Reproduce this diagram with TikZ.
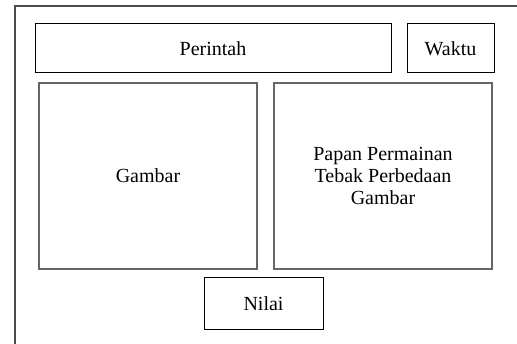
\documentclass[tikz,border=0pt]{standalone}
\usepackage{fontspec}
\setmainfont{Liberation Serif}
\usepackage{tikz}
\usetikzlibrary{positioning}
\tikzset{>=latex}
\tikzstyle{panel} = [rectangle, draw = black, line width = 1pt, inner sep = 0pt, align = center, font = \fontsize{20}{22}\selectfont]
\tikzstyle{panelgray} = [panel, draw = black!60, line width = 1.2pt]

\begin{document}
\begin{tikzpicture}[x = 1pt, y = -1pt]
\useasboundingbox (0, 0) rectangle (517, 344);
\draw [draw = black!70, line width = 1.2pt] (15, 344) -- (15, 6) -- (517, 6);
\node [panel, minimum width = 356pt, minimum height = 49pt] (perintah) at (213, 48.5) {Perintah};
\node [panel, minimum width = 87pt, minimum height = 49pt] (waktu) at (450.5, 48.5) {Waktu};
\node [panelgray, minimum width = 218pt, minimum height = 186pt] (gambar) at (148, 176) {Gambar};
\node [panelgray, minimum width = 218pt, minimum height = 186pt] (papan) at (383, 176) {Papan Permainan\\Tebak Perbedaan\\Gambar};
\node [panel, minimum width = 119pt, minimum height = 52pt] (nilai) at (263.5, 304) {Nilai};
\end{tikzpicture}
\end{document}
